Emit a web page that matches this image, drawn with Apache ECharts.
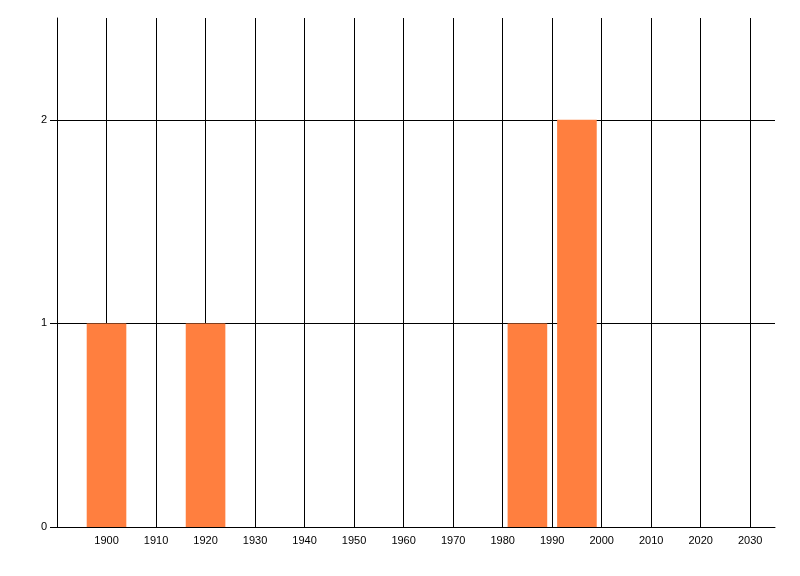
<!DOCTYPE html>
<html>
<head>
<meta charset="utf-8">
<script src="https://cdn.jsdelivr.net/npm/echarts@6/dist/echarts.min.js"></script>
<style>
html,body{margin:0;padding:0;background:#fff;}
#c{width:800px;height:576px;}
</style>
</head>
<body>
<div id="c"></div>
<script>
// Data
const years = [1900, 1920, 1985, 1995];
const counts = [1, 1, 1, 2];
const binWidth = 8; // years covered by each bar
const xTicks = [1890, 1900, 1910, 1920, 1930, 1940, 1950, 1960, 1970, 1980, 1990, 2000, 2010, 2020, 2030];
const xLabels = [1900, 1910, 1920, 1930, 1940, 1950, 1960, 1970, 1980, 1990, 2000, 2010, 2020, 2030];
const yTicks = [0, 1, 2];

const chart = echarts.init(document.getElementById('c'), null, {renderer: 'canvas'});
const font = 'Liberation Sans, Arial, sans-serif';
chart.setOption({
  animation: false,
  backgroundColor: '#fff',
  grid: {left: 57, right: 25, top: 18, bottom: 49, containLabel: false},
  xAxis: {
    type: 'value', min: 1890, max: 2035, interval: 10,
    axisLine: {show: true, onZero: false, lineStyle: {color: '#000', width: 1}},
    axisTick: {show: false, customValues: xTicks},
    axisLabel: {customValues: xLabels, formatter: v => String(v), color: '#000', fontSize: 11, fontFamily: font, margin: 8},
    splitLine: {show: true, lineStyle: {color: '#000', width: 1}}
  },
  yAxis: {
    type: 'value', min: 0, max: 2.5, interval: 1,
    axisLine: {show: true, lineStyle: {color: '#000', width: 1}},
    axisTick: {show: true, length: 7, customValues: yTicks, lineStyle: {color: '#000', width: 1}},
    axisLabel: {customValues: yTicks, formatter: v => String(v), color: '#000', fontSize: 11, fontFamily: font, margin: 10},
    splitLine: {show: true, lineStyle: {color: '#000', width: 1}}
  },
  series: [{
    type: 'custom',
    data: years.map((y, i) => [y, counts[i]]),
    renderItem: function (params, api) {
      const x = api.value(0), v = api.value(1);
      const p0 = api.coord([x - binWidth / 2, v]);
      const p1 = api.coord([x + binWidth / 2, 0]);
      return {
        type: 'rect',
        shape: {x: p0[0], y: p0[1], width: p1[0] - p0[0], height: p1[1] - p0[1]},
        style: {fill: '#ff7f3f'}
      };
    },
    z: 5
  }]
});
</script>
</body>
</html>
